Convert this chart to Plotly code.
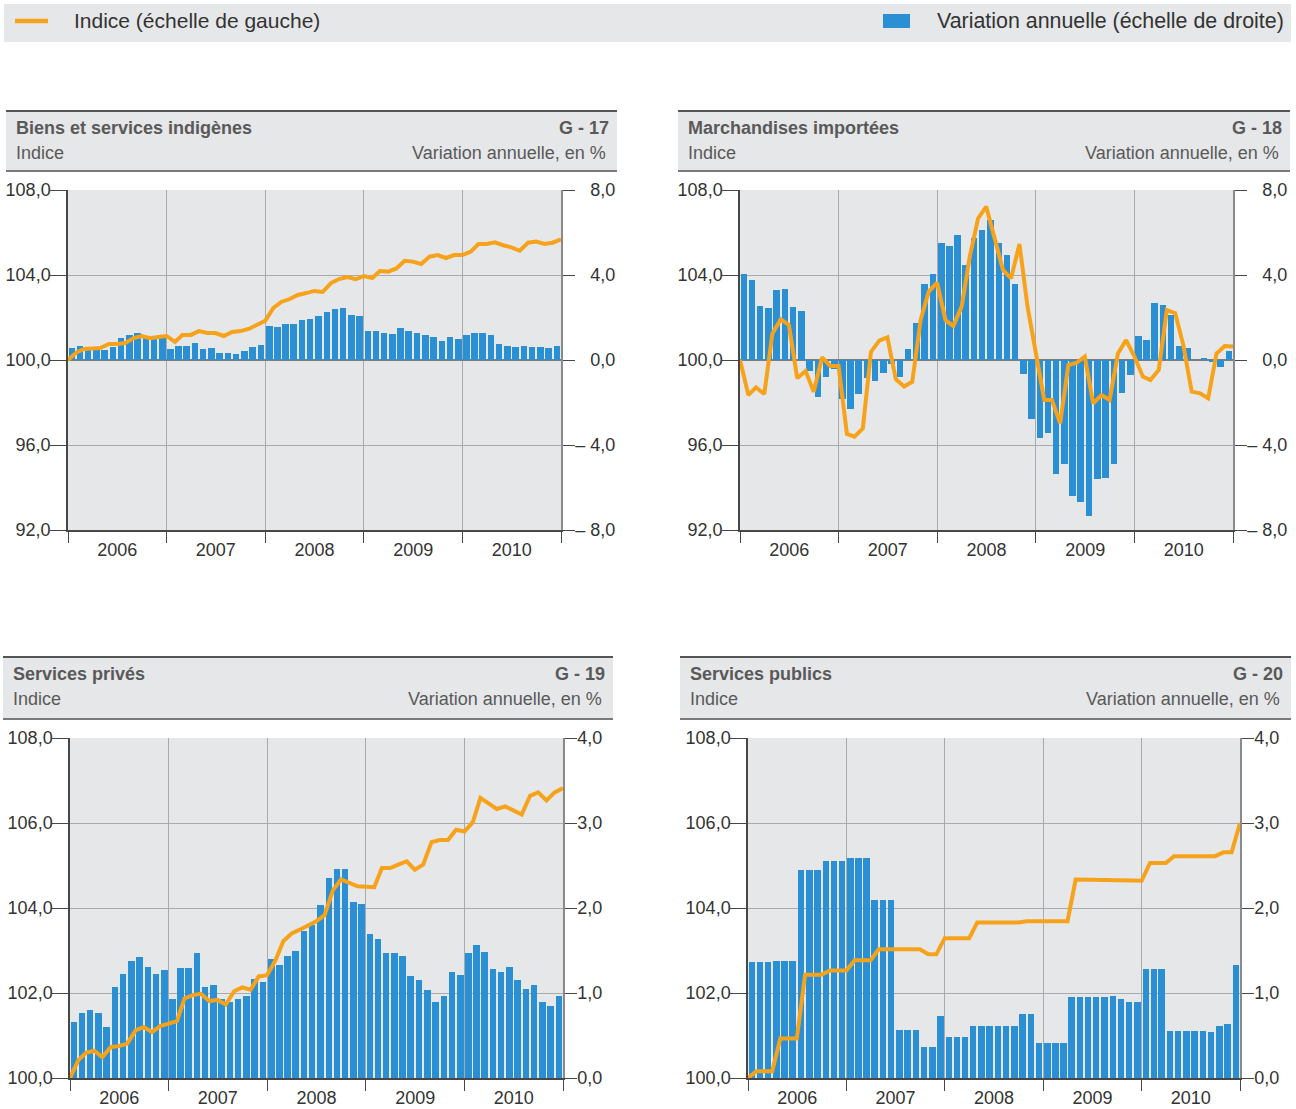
import pandas as pd
import plotly.graph_objects as go

W, H = 1296, 1109

# bars: one per month; index line: Dec 2005 = 100, then the end of each month
months = pd.date_range("2006-01-01", periods=60, freq="MS")
index_dates = pd.date_range("2006-01-01", periods=61, freq="MS")

# G-17 Biens et services indigenes
var_g17 = [0.56, 0.66, 0.55, 0.47, 0.47, 0.63, 1.03, 1.18, 1.27, 1.02, 0.97, 1.02,
           0.52, 0.66, 0.66, 0.80, 0.52, 0.56, 0.33, 0.33, 0.28, 0.42, 0.61, 0.71,
           1.60, 1.55, 1.69, 1.69, 1.88, 1.93, 2.07, 2.26, 2.40, 2.45, 2.12, 2.07,
           1.36, 1.36, 1.27, 1.22, 1.50, 1.36, 1.27, 1.18, 1.08, 0.89, 1.08, 0.99,
           1.18, 1.27, 1.27, 1.18, 0.75, 0.66, 0.61, 0.66, 0.61, 0.61, 0.56, 0.66]
idx_g17 = [100.0, 100.35, 100.52, 100.52, 100.56, 100.75, 100.75, 100.80, 101.03, 101.13, 101.03, 101.08, 101.13,
           100.85, 101.18, 101.18, 101.36, 101.27, 101.27, 101.13, 101.32, 101.36, 101.46, 101.65, 101.84,
           102.45, 102.73, 102.87, 103.06, 103.15, 103.25, 103.20, 103.62, 103.81, 103.90, 103.80, 103.95,
           103.86, 104.19, 104.16, 104.31, 104.67, 104.63, 104.52, 104.86, 104.94, 104.80, 104.94, 104.94,
           105.10, 105.46, 105.46, 105.54, 105.40, 105.30, 105.14, 105.52, 105.57, 105.46, 105.52, 105.68]

# G-18 Marchandises importees
var_g18 = [4.05, 3.76, 2.54, 2.45, 3.29, 3.34, 2.49, 2.31, -0.52, -1.73, -0.78, -0.40,
           -1.84, -2.30, -1.60, -0.86, -0.97, -0.61, -0.20, -0.80, 0.50, 1.76, 3.58, 4.05,
           5.52, 5.36, 5.88, 4.47, 5.76, 6.12, 6.59, 5.52, 4.94, 3.58, -0.66, -2.78,
           -3.67, -3.44, -5.36, -4.88, -6.40, -6.68, -7.33, -5.58, -5.54, -4.88, -1.55, -0.71,
           1.13, 0.94, 2.68, 2.59, 2.12, 0.66, 0.55, 0.00, 0.10, -0.10, -0.35, 0.41]
idx_g18 = [100.0, 98.35, 98.71, 98.40, 101.25, 101.91, 101.65, 99.14, 99.48, 98.51, 100.13, 99.72, 99.72,
           96.52, 96.39, 96.78, 100.38, 100.91, 101.07, 99.10, 98.75, 98.98, 101.88, 103.22, 103.64,
           101.88, 101.60, 102.51, 104.86, 106.67, 107.22, 105.73, 104.24, 103.84, 105.46, 102.51, 100.20,
           98.12, 98.12, 97.02, 99.76, 99.87, 100.16, 97.96, 98.35, 98.12, 100.31, 100.94, 100.16,
           99.22, 99.06, 99.53, 102.35, 102.20, 100.70, 98.51, 98.43, 98.20, 100.31, 100.66, 100.63]

# G-19 Services prives
var_g19 = [0.66, 0.77, 0.80, 0.77, 0.60, 1.07, 1.22, 1.38, 1.42, 1.31, 1.22, 1.27,
           0.93, 1.29, 1.30, 1.47, 1.07, 1.09, 0.93, 0.89, 0.93, 0.96, 1.17, 1.13,
           1.40, 1.33, 1.44, 1.49, 1.73, 1.80, 2.03, 2.35, 2.46, 2.46, 2.07, 2.05,
           1.70, 1.63, 1.47, 1.47, 1.44, 1.20, 1.15, 1.04, 0.90, 0.97, 1.25, 1.21,
           1.47, 1.57, 1.48, 1.28, 1.25, 1.31, 1.15, 1.05, 1.09, 0.90, 0.85, 0.97]
idx_g19 = [100.0, 100.42, 100.59, 100.64, 100.49, 100.73, 100.75, 100.81, 101.12, 101.20, 101.08, 101.22, 101.28,
           101.34, 101.87, 101.95, 101.98, 101.81, 101.84, 101.73, 102.04, 102.13, 102.08, 102.39, 102.42,
           102.77, 103.22, 103.40, 103.49, 103.58, 103.69, 103.83, 104.42, 104.67, 104.60, 104.51, 104.50,
           104.49, 104.94, 104.94, 105.02, 105.10, 104.90, 105.02, 105.55, 105.60, 105.60, 105.84, 105.80,
           106.02, 106.59, 106.47, 106.33, 106.39, 106.30, 106.20, 106.64, 106.72, 106.53, 106.72, 106.82]

# G-20 Services publics
var_g20 = [1.36, 1.36, 1.36, 1.38, 1.38, 1.38, 2.45, 2.45, 2.45, 2.55, 2.55, 2.55,
           2.59, 2.59, 2.59, 2.09, 2.09, 2.09, 0.57, 0.57, 0.57, 0.37, 0.37, 0.73,
           0.48, 0.48, 0.48, 0.61, 0.61, 0.61, 0.61, 0.61, 0.61, 0.75, 0.75, 0.41,
           0.41, 0.41, 0.41, 0.95, 0.95, 0.95, 0.95, 0.95, 0.96, 0.93, 0.90, 0.90,
           1.28, 1.28, 1.28, 0.55, 0.55, 0.55, 0.55, 0.55, 0.54, 0.61, 0.63, 1.33]
idx_g20 = [100.0, 100.16, 100.16, 100.16, 100.93, 100.93, 100.93, 102.43, 102.43, 102.43, 102.53, 102.53, 102.53,
           102.77, 102.77, 102.77, 103.03, 103.03, 103.03, 103.03, 103.03, 103.03, 102.91, 102.91, 103.29,
           103.29, 103.29, 103.29, 103.66, 103.66, 103.66, 103.66, 103.66, 103.66, 103.69, 103.69, 103.69,
           103.69, 103.69, 103.69, 104.67, 104.67, 104.67, 104.67, 104.67, 104.67, 104.67, 104.65, 104.64,
           105.06, 105.06, 105.06, 105.22, 105.22, 105.22, 105.22, 105.22, 105.22, 105.31, 105.31, 106.00]

ORANGE = "#f7a21b"
BLUE = "#2b90d3"
PANEL = "#e6e7e9"
GRID = "#a9aaac"
DARK = "#474747"
TEXT = "#333333"
HEAD_TEXT = "#595959"
FONT = "Liberation Sans, Arial, sans-serif"


def px(x):
    return x / W


def py(y):
    return 1 - y / H


def label(v, pad=False):
    s = f"{abs(v):.1f}".replace(".", ",")
    if v < 0:
        return "\u2013 " + s
    return "\u00a0\u00a0\u00a0" + s if pad else s


panels = [
    dict(title="Biens et services indigènes", code="G - 17", var=var_g17, idx=idx_g17,
         plot=(68, 561, 190, 530), head=(6, 617, 111, 171),
         left=[92, 96, 100, 104, 108], right=[-8, -4, 0, 4, 8]),
    dict(title="Marchandises importées", code="G - 18", var=var_g18, idx=idx_g18,
         plot=(740, 1233, 190, 530), head=(678, 1290, 111, 171),
         left=[92, 96, 100, 104, 108], right=[-8, -4, 0, 4, 8]),
    dict(title="Services privés", code="G - 19", var=var_g19, idx=idx_g19,
         plot=(70, 563, 738, 1078), head=(3, 613, 657, 719),
         left=[100, 102, 104, 106, 108], right=[0, 1, 2, 3, 4]),
    dict(title="Services publics", code="G - 20", var=var_g20, idx=idx_g20,
         plot=(748, 1240, 738, 1078), head=(680, 1291, 657, 719),
         left=[100, 102, 104, 106, 108], right=[0, 1, 2, 3, 4]),
]

fig = go.Figure()
shapes = []
annotations = []
axes = {}

for n, p in enumerate(panels, start=1):
    xref = "x" if n == 1 else f"x{n}"
    ybar = "y" if n == 1 else f"y{2 * n - 1}"
    yline = f"y{2 * n}"
    x0, x1, y0, y1 = p["plot"]
    has_neg = min(p["right"]) < 0

    fig.add_trace(go.Bar(
        x=months, y=p["var"], xaxis=xref, yaxis=ybar,
        xperiod="M1", xperiodalignment="middle",
        width=24 * 86400000, marker=dict(color=BLUE, line=dict(width=0)),
        showlegend=False,
    ))
    fig.add_trace(go.Scatter(
        x=index_dates, y=p["idx"], xaxis=xref, yaxis=yline,
        mode="lines", line=dict(color=ORANGE, width=4), showlegend=False,
    ))

    axes["xaxis" if n == 1 else f"xaxis{n}"] = dict(
        type="date", domain=[px(x0), px(x1)], anchor=ybar, automargin=False,
        range=["2006-01-01", "2011-01-01"], tick0="2006-01-01", dtick="M12",
        tickformat="%Y", ticklabelmode="period", ticklabelstandoff=-8,
        ticks="outside", ticklen=11, tickcolor=DARK, tickwidth=1,
        showgrid=True, gridcolor=GRID, gridwidth=1,
        showline=True, linecolor=DARK, linewidth=1.5,
        tickfont=dict(family=FONT, size=18, color=TEXT), fixedrange=True,
    )
    axes["yaxis" if n == 1 else f"yaxis{2 * n - 1}"] = dict(
        domain=[py(y1), py(y0)], anchor=xref, side="right", automargin=False,
        range=[p["right"][0], p["right"][-1]],
        tickvals=p["right"], ticktext=[label(v, has_neg) for v in p["right"]],
        ticks="outside", ticklen=12, tickcolor=DARK, tickwidth=1, ticklabelstandoff=-3,
        showgrid=True, gridcolor=GRID, gridwidth=1,
        zeroline=has_neg, zerolinecolor="#7d7d7d", zerolinewidth=2,
        showline=True, linecolor="#8a8a8a", linewidth=1.5,
        tickfont=dict(family=FONT, size=18, color=TEXT), fixedrange=True,
    )
    axes[f"yaxis{2 * n}"] = dict(
        overlaying=ybar, anchor=xref, side="left", automargin=False,
        range=[p["left"][0], p["left"][-1]],
        tickvals=p["left"], ticktext=[label(v) for v in p["left"]],
        ticks="outside", ticklen=16, tickcolor=DARK, tickwidth=1, ticklabelstandoff=-4,
        showgrid=False, zeroline=False,
        showline=True, linecolor=DARK, linewidth=1.5,
        tickfont=dict(family=FONT, size=18, color=TEXT), fixedrange=True,
    )

    # header box above each chart
    hx0, hx1, hy0, hy1 = p["head"]
    shapes.append(dict(type="rect", xref="paper", yref="paper",
                       x0=px(hx0), x1=px(hx1), y0=py(hy1), y1=py(hy0),
                       fillcolor=PANEL, line=dict(width=0), layer="below"))
    shapes.append(dict(type="line", xref="paper", yref="paper",
                       x0=px(hx0), x1=px(hx1), y0=py(hy0), y1=py(hy0),
                       line=dict(color="#555555", width=2)))
    shapes.append(dict(type="line", xref="paper", yref="paper",
                       x0=px(hx0), x1=px(hx1), y0=py(hy1), y1=py(hy1),
                       line=dict(color="#7a7a7a", width=2)))
    for text, x, y, anchor, bold in [
        (p["title"], hx0 + 8, hy0 + 17, "left", True),
        (p["code"], hx1 - 6, hy0 + 17, "right", True),
        ("Indice", hx0 + 8, hy0 + 42, "left", False),
        ("Variation annuelle, en %", hx1 - 9, hy0 + 42, "right", False),
    ]:
        annotations.append(dict(
            text=f"<b>{text}</b>" if bold else text, xref="paper", yref="paper",
            x=px(x), y=py(y), xanchor=anchor, yanchor="middle", showarrow=False,
            font=dict(family=FONT, size=18, color=HEAD_TEXT),
        ))

# legend strip at the top
shapes.append(dict(type="rect", xref="paper", yref="paper",
                   x0=px(4), x1=px(1291), y0=py(42), y1=py(4),
                   fillcolor=PANEL, line=dict(width=0), layer="below"))
shapes.append(dict(type="line", xref="paper", yref="paper",
                   x0=px(15), x1=px(48), y0=py(21), y1=py(21),
                   line=dict(color=ORANGE, width=4.5)))
shapes.append(dict(type="rect", xref="paper", yref="paper",
                   x0=px(883), x1=px(910), y0=py(28), y1=py(14),
                   fillcolor=BLUE, line=dict(width=0)))
annotations.append(dict(text="Indice (échelle de gauche)", xref="paper", yref="paper",
                        x=px(72), y=py(21), xanchor="left", yanchor="middle", showarrow=False,
                        font=dict(family=FONT, size=21, color=TEXT)))
annotations.append(dict(text="Variation annuelle (échelle de droite)", xref="paper", yref="paper",
                        x=px(1286), y=py(21), xanchor="right", yanchor="middle", showarrow=False,
                        font=dict(family=FONT, size=21.4, color=TEXT)))

fig.update_layout(
    width=W, height=H, margin=dict(l=0, r=0, t=0, b=0, autoexpand=False),
    paper_bgcolor="white", plot_bgcolor=PANEL,
    font=dict(family=FONT, color=TEXT),
    shapes=shapes, annotations=annotations,
    bargap=0, hovermode=False,
    **axes,
)

fig.write_html("out.html", config={"displayModeBar": False},
               post_script="document.body.style.margin='0';")
